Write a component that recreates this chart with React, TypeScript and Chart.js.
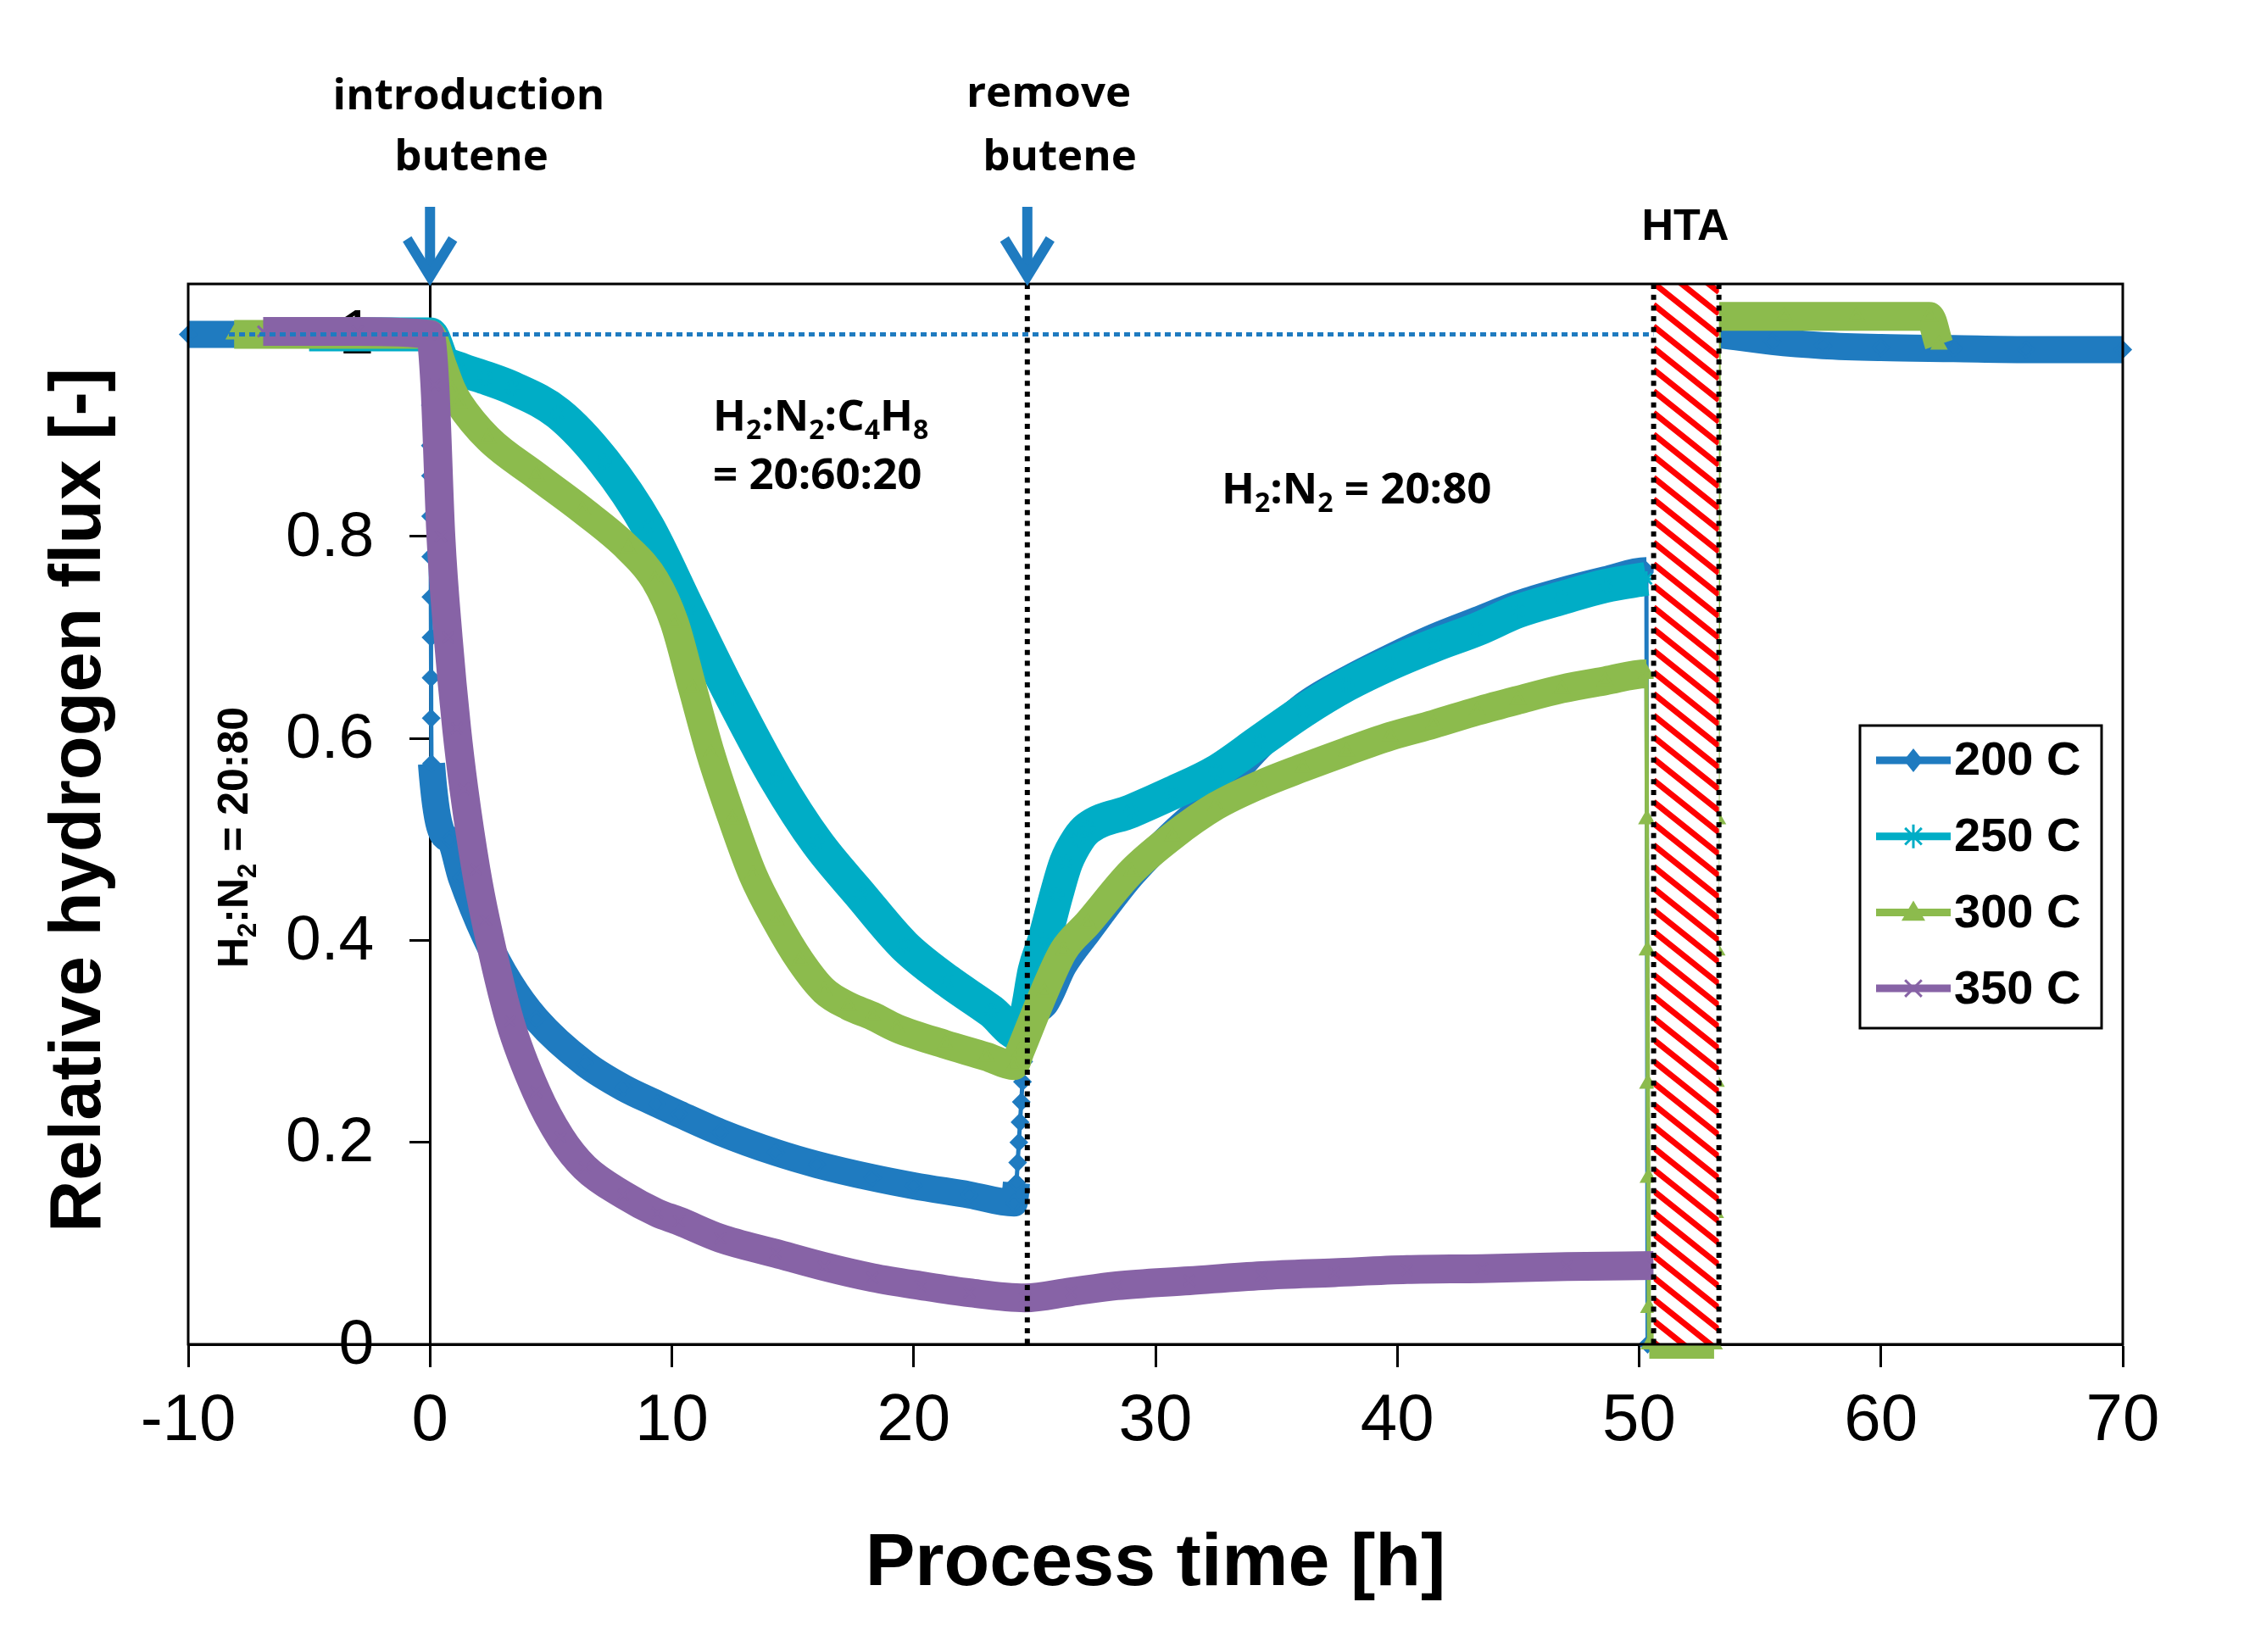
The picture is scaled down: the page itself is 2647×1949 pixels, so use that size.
import { useEffect, useRef } from "react";
import { Chart, registerables } from "chart.js";

Chart.register(...registerables);

const W = 2647;
const H = 1949;

// axis ticks
const xTicks = [-10, 0, 10, 20, 30, 40, 50, 60, 70];
const yTicks = [0, 0.2, 0.4, 0.6, 0.8, 1];

// series: [process time h, relative H2 flux]
const seriesNames = ["200 C", "250 C", "300 C", "350 C"];

const s200 = [
  [-10, 1], [-8, 1], [-6, 1], [-4, 1], [-2, 1], [0, 1],
  [0.005, 0.97], [0.01, 0.93], [0.015, 0.89], [0.02, 0.86], [0.025, 0.82], [0.03, 0.78],
  [0.035, 0.74], [0.04, 0.7], [0.045, 0.66], [0.05, 0.62], [0.06, 0.575],
  [0.8, 0.5], [1.3, 0.462], [2.3, 0.403], [3.3, 0.358], [4.4, 0.322], [6.4, 0.278], [8, 0.254],
  [9.4, 0.238], [10.3, 0.228], [12, 0.21], [14.3, 0.19], [16, 0.178], [18.3, 0.165],
  [20, 0.157], [22.3, 0.148], [24.15, 0.14],
  [24.25, 0.16], [24.3, 0.18], [24.35, 0.2], [24.4, 0.22], [24.45, 0.24], [24.5, 0.26],
  [24.55, 0.28], [24.6, 0.3],
  [25.4, 0.336], [26.2, 0.375], [27.2, 0.408], [29, 0.464], [30.7, 0.506], [32.5, 0.545],
  [34.3, 0.592], [36.1, 0.632], [37.9, 0.658], [39.7, 0.68], [41.5, 0.7], [43.3, 0.717],
  [45, 0.733], [46.8, 0.746], [48.6, 0.757], [50.3, 0.766], [50.35, 0], [51, null],
  [53.3, 1.0], [55.5, 0.993], [57.6, 0.989], [60, 0.987], [63, 0.986], [66, 0.985], [70, 0.985],
];

const s250 = [
  [-5, 1], [-2, 1], [0, 1], [0.5, 0.975], [1.2, 0.966], [2.3, 0.957], [3.4, 0.947],
  [5.3, 0.922], [7.2, 0.874], [9, 0.81], [10.7, 0.727], [12.5, 0.64], [14.3, 0.56],
  [16, 0.497], [17.8, 0.445], [19.6, 0.395], [21.4, 0.36], [23.2, 0.33], [24.4, 0.307],
  [24.7, 0.33], [25, 0.37], [25.4, 0.4], [25.9, 0.445], [26.3, 0.477], [26.8, 0.5],
  [27.2, 0.511], [29, 0.528], [30.7, 0.546], [32.5, 0.567], [34.3, 0.597], [36.1, 0.627],
  [37.9, 0.653], [39.7, 0.674], [41.5, 0.692], [43.3, 0.708], [45, 0.726], [46.8, 0.739],
  [48.6, 0.751], [50.3, 0.758],
];

const s300 = [
  [-8.1, 1], [-4, 1], [0, 1], [0.5, 0.97], [0.9, 0.945], [1.2, 0.932], [2.4, 0.897],
  [4.4, 0.86], [6.3, 0.826], [8.2, 0.788], [9.3, 0.757], [10.1, 0.715], [10.85, 0.65],
  [11.6, 0.585], [12.5, 0.52], [13.35, 0.465], [14.3, 0.42], [15.3, 0.38], [16.3, 0.35],
  [17.3, 0.335], [18.3, 0.325], [19.3, 0.313], [21.3, 0.297], [23, 0.285], [24.15, 0.276],
  [24.4, 0.29], [25.4, 0.349], [26.2, 0.39], [27.2, 0.417], [29, 0.468], [30.7, 0.503],
  [32.5, 0.533], [34.3, 0.554], [36.1, 0.571], [37.9, 0.587], [39.7, 0.602], [41.5, 0.614],
  [43.3, 0.627], [45, 0.638], [46.8, 0.649], [48.6, 0.657], [50.3, 0.664],
  [50.32, 0.52], [50.34, 0.39], [50.36, 0.258], [50.38, 0.165], [50.4, 0.036], [50.42, 0],
  [53.1, 0], [53.15, 0.13], [53.18, 0.26], [53.21, 0.39], [53.24, 0.52], [53.3, 1.018],
  [56, 1.018], [59, 1.018], [62, 1.018], [62.4, 0.99],
];

const s350 = [
  [-6.9, 1.003], [-3, 1.003], [0, 1], [0.2, 0.95], [0.45, 0.8], [0.75, 0.7], [1.1, 0.61],
  [1.4, 0.55], [1.9, 0.47], [2.3, 0.42], [3.3, 0.32], [4.4, 0.25], [5.4, 0.205], [6.4, 0.175],
  [8, 0.148], [9.4, 0.13], [10.3, 0.122], [12, 0.105], [14.3, 0.09], [16.3, 0.077],
  [18.3, 0.066], [20.3, 0.058], [22.3, 0.051], [24.6, 0.046], [26.5, 0.052], [28.4, 0.058],
  [31.4, 0.063], [34.4, 0.068], [37.4, 0.071], [40.4, 0.074], [43.5, 0.075], [47, 0.077],
  [50.6, 0.078],
];

// process events (h)
const arrowTimes = [0, 24.7];
const dottedTimes = [24.7, 50.6, 53.3];
const htaSpan = [50.6, 53.3];
const refFlux = 1;

const colors = ["#1f7bc0", "#00adc6", "#8cbb4d", "#8763a6"];
const markers = ["rectRot", "star", "triangle", "crossRot"];
const bands = [32, 40, 34, 34];

type Part = [string, boolean];

function drawRich(ctx: CanvasRenderingContext2D, parts: Part[], x: number, y: number, size: number, family: string, align: string) {
  const main = `bold ${size}px ${family}`;
  const sub = `bold ${Math.round(size * 0.62)}px ${family}`;
  let total = 0;
  parts.forEach(([t, s]) => {
    ctx.font = s ? sub : main;
    total += ctx.measureText(t).width;
  });
  let cx = align === "center" ? x - total / 2 : x;
  ctx.textAlign = "left";
  ctx.textBaseline = "alphabetic";
  parts.forEach(([t, s]) => {
    ctx.font = s ? sub : main;
    ctx.fillText(t, cx, s ? y + size * 0.2 : y);
    cx += ctx.measureText(t).width;
  });
}

function drawMarker(ctx: CanvasRenderingContext2D, style: string, x: number, y: number, r: number, color: string) {
  ctx.save();
  ctx.fillStyle = color;
  ctx.strokeStyle = color;
  ctx.lineWidth = 3;
  ctx.beginPath();
  if (style === "rectRot") {
    ctx.moveTo(x, y - r);
    ctx.lineTo(x + r * 0.8, y);
    ctx.lineTo(x, y + r);
    ctx.lineTo(x - r * 0.8, y);
    ctx.closePath();
    ctx.fill();
  } else if (style === "triangle") {
    ctx.moveTo(x, y - r);
    ctx.lineTo(x + r, y + r * 0.7);
    ctx.lineTo(x - r, y + r * 0.7);
    ctx.closePath();
    ctx.fill();
  } else {
    const d = r * 0.7;
    ctx.moveTo(x - d, y - d);
    ctx.lineTo(x + d, y + d);
    ctx.moveTo(x + d, y - d);
    ctx.lineTo(x - d, y + d);
    if (style === "star") {
      ctx.moveTo(x, y - r);
      ctx.lineTo(x, y + r);
    }
    ctx.stroke();
  }
  ctx.restore();
}

const decorations = {
  id: "decorations",
  beforeDatasetsDraw(chart: any) {
    // y tick labels, left of the y axis that sits at t = 0
    const { ctx, scales } = chart;
    const axisX = scales.x.getPixelForValue(0);
    ctx.save();
    ctx.fillStyle = "#000000";
    ctx.font = "75px 'Liberation Sans'";
    ctx.textAlign = "right";
    ctx.textBaseline = "middle";
    yTicks.forEach((v) => {
      ctx.fillText(String(v), axisX - 66, scales.y.getPixelForValue(v) + 2);
    });
    ctx.restore();
  },
  afterDatasetsDraw(chart: any) {
    const { ctx, chartArea: a, scales } = chart;
    const x = scales.x;
    const y = scales.y;
    ctx.save();

    // reference line at flux = 1
    const y1 = y.getPixelForValue(refFlux);
    ctx.strokeStyle = colors[0];
    ctx.lineWidth = 5;
    ctx.setLineDash([7, 5]);
    ctx.beginPath();
    ctx.moveTo(a.left, y1);
    ctx.lineTo(x.getPixelForValue(htaSpan[0]), y1);
    ctx.stroke();

    // HTA hatched band
    const hx0 = x.getPixelForValue(htaSpan[0]);
    const hx1 = x.getPixelForValue(htaSpan[1]);
    const hb = y.getPixelForValue(0);
    ctx.setLineDash([]);
    ctx.fillStyle = "#ffffff";
    ctx.fillRect(hx0, a.top, hx1 - hx0, hb - a.top);
    ctx.save();
    ctx.beginPath();
    ctx.rect(hx0, a.top, hx1 - hx0, hb - a.top);
    ctx.clip();
    ctx.strokeStyle = "#ff0000";
    ctx.lineWidth = 7;
    const span = hx1 - hx0;
    for (let yy = a.top - span - 26; yy < hb + 26; yy += 25.5) {
      ctx.beginPath();
      ctx.moveTo(hx0, yy);
      ctx.lineTo(hx1, yy + span * 0.8);
      ctx.stroke();
    }
    ctx.restore();

    // dotted event lines
    ctx.strokeStyle = "#000000";
    ctx.lineWidth = 6;
    ctx.setLineDash([6, 6.7]);
    dottedTimes.forEach((t) => {
      const px = x.getPixelForValue(t);
      ctx.beginPath();
      ctx.moveTo(px, a.top);
      ctx.lineTo(px, a.bottom);
      ctx.stroke();
    });

    // frame
    ctx.setLineDash([]);
    ctx.lineWidth = 3;
    ctx.strokeRect(a.left, a.top, a.right - a.left, a.bottom - a.top);
    ctx.restore();
  },
  afterDraw(chart: any) {
    const { ctx, chartArea: a, scales } = chart;
    const x = scales.x;
    ctx.save();
    ctx.fillStyle = "#000000";

    // arrows
    ctx.strokeStyle = colors[0];
    ctx.lineWidth = 12;
    ctx.lineJoin = "miter";
    arrowTimes.forEach((t) => {
      const px = x.getPixelForValue(t);
      ctx.beginPath();
      ctx.moveTo(px, 244);
      ctx.lineTo(px, 326);
      ctx.stroke();
      ctx.beginPath();
      ctx.moveTo(px - 27, 282);
      ctx.lineTo(px, 326);
      ctx.lineTo(px + 27, 282);
      ctx.stroke();
    });

    // annotations
    const cal = "'Open Sans'";
    drawRich(ctx, [["introduction", false]], 553, 129, 51, cal, "center");
    drawRich(ctx, [["butene", false]], 556, 201, 51, cal, "center");
    drawRich(ctx, [["remove", false]], 1237, 126, 51, cal, "center");
    drawRich(ctx, [["butene", false]], 1250, 201, 51, cal, "center");
    drawRich(ctx, [["HTA", false]], 1988, 283, 52, "'Liberation Sans'", "center");
    drawRich(
      ctx,
      [["H", false], ["2", true], [":N", false], ["2", true], [":C", false], ["4", true], ["H", false], ["8", true]],
      841, 508, 51, cal, "left"
    );
    drawRich(ctx, [["= 20:60:20", false]], 841, 577, 51, cal, "left");
    drawRich(ctx, [["H", false], ["2", true], [":N", false], ["2", true], [" = 20:80", false]], 1441, 594, 51, cal, "left");

    ctx.save();
    ctx.translate(292, 988);
    ctx.rotate(-Math.PI / 2);
    drawRich(ctx, [["H", false], ["2", true], [":N", false], ["2", true], [" = 20:80", false]], 0, 0, 50, "'Liberation Sans'", "center");
    ctx.restore();

    // axis titles
    ctx.font = "bold 88px 'Liberation Sans'";
    ctx.textAlign = "center";
    ctx.textBaseline = "alphabetic";
    ctx.fillText("Process time [h]", (a.left + a.right) / 2, 1870);
    ctx.save();
    ctx.translate(118, 944);
    ctx.rotate(-Math.PI / 2);
    ctx.font = "bold 85px 'Liberation Sans'";
    ctx.fillText("Relative hydrogen flux [-]", 0, 0);
    ctx.restore();

    // legend
    ctx.strokeStyle = "#000000";
    ctx.lineWidth = 3;
    ctx.strokeRect(2194, 856, 285, 357);
    seriesNames.forEach((name, i) => {
      const cy = 897 + i * 89.7;
      ctx.strokeStyle = colors[i];
      ctx.lineWidth = 9;
      ctx.beginPath();
      ctx.moveTo(2213, cy);
      ctx.lineTo(2301, cy);
      ctx.stroke();
      drawMarker(ctx, markers[i], 2257, cy, 14, colors[i]);
      ctx.fillStyle = "#000000";
      ctx.font = "bold 56px 'Liberation Sans'";
      ctx.textAlign = "left";
      ctx.textBaseline = "middle";
      ctx.fillText(name, 2305, cy + 2);
    });
    ctx.restore();
  },
};

export default function App() {
  const canvasRef = useRef<HTMLCanvasElement | null>(null);

  useEffect(() => {
    if (!canvasRef.current) return;
    const series = [s200, s250, s300, s350];
    const chart = new Chart(canvasRef.current, {
      type: "line",
      data: {
        datasets: series.map((s, i) => ({
          label: seriesNames[i],
          data: s.map(([t, f]) => ({ x: t, y: f })),
          order: series.length - i,
          borderColor: colors[i],
          backgroundColor: colors[i],
          borderWidth: bands[i],
          pointStyle: markers[i],
          pointRadius: 9,
          pointBorderWidth: 3,
          pointBackgroundColor: colors[i],
          pointBorderColor: colors[i],
          cubicInterpolationMode: "monotone",
          borderCapStyle: "butt",
          borderJoinStyle: "round",
          spanGaps: false,
          clip: 18,
          segment: {
            borderWidth: (c: any) => (Math.abs(c.p1.parsed.x - c.p0.parsed.x) < 0.1 ? 5 : bands[i]),
          },
        })),
      },
      options: {
        responsive: false,
        animation: false,
        events: [],
        layout: { padding: { left: 222, right: 143, top: 335, bottom: 223 } },
        plugins: { legend: { display: false }, tooltip: { enabled: false } },
        scales: {
          x: {
            type: "linear",
            min: -10,
            max: 70,
            position: "bottom",
            afterBuildTicks: (s: any) => {
              s.ticks = xTicks.map((v) => ({ value: v }));
            },
            afterFit: (s: any) => {
              s.height = 140;
            },
            ticks: {
              font: { family: "'Liberation Sans'", size: 78 },
              color: "#000000",
              padding: 18,
              maxRotation: 0,
              autoSkip: false,
              callback: (v: any) => String(v),
            },
            grid: { drawOnChartArea: false, drawTicks: true, tickLength: 27, tickWidth: 3, tickColor: "#000000" },
            border: { display: true, color: "#000000", width: 3 },
          },
          y: {
            type: "linear",
            min: 0,
            max: 1.05,
            position: { x: 0 },
            afterBuildTicks: (s: any) => {
              s.ticks = yTicks.map((v) => ({ value: v }));
            },
            ticks: { display: false },
            grid: { drawOnChartArea: false, drawTicks: true, tickLength: 23, tickWidth: 3, tickColor: "#000000" },
            border: { display: true, color: "#000000", width: 3 },
          },
        },
      },
      plugins: [decorations],
    } as any);
    return () => chart.destroy();
  }, []);

  return (
    <div style={{ position: "fixed", left: 0, top: 0, width: W, height: H, background: "#ffffff" }}>
      <canvas ref={canvasRef} width={W} height={H} style={{ display: "block", width: W, height: H }} />
    </div>
  );
}
